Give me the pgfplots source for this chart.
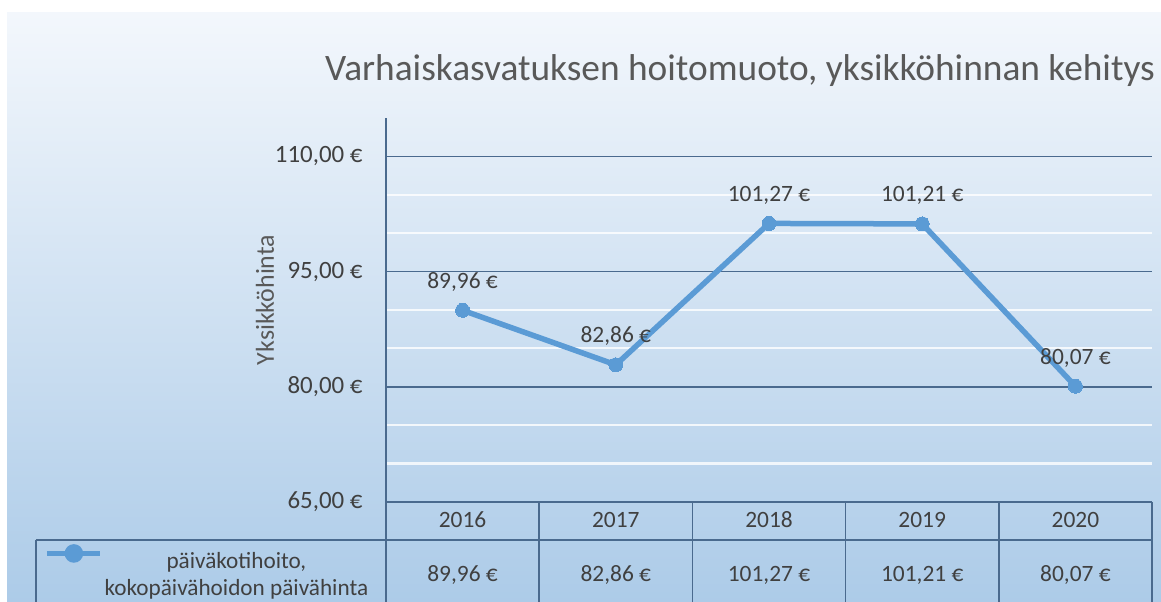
\documentclass[border=0pt]{standalone}
\usepackage{fontspec}
\setmainfont{Carlito}
\usepackage{pgfplots}
\usepackage{pgfplotstable}
\pgfplotsset{compat=1.18}
\definecolor{bgtop}{RGB}{243,247,252}
\definecolor{bgbot}{RGB}{172,203,232}
\definecolor{gridc}{RGB}{74,106,142}
\definecolor{txt}{RGB}{64,64,64}
\definecolor{ttl}{RGB}{89,89,89}
\definecolor{ser}{RGB}{91,155,213}

\pgfplotstableread{
year value
2016 89.96
2017 82.86
2018 101.27
2019 101.21
2020 80.07
}\datatable

\begin{document}
\begin{tikzpicture}[x=1bp,y=1bp]
\useasboundingbox (0,0) rectangle (1161,602);
\shade[top color=bgtop,bottom color=bgbot] (7,-2) rectangle (1163,589);
\node[font=\fontsize{37.5}{44}\selectfont, text=ttl] at (740,531) {Varhaiskasvatuksen hoitomuoto, yksikköhinnan kehitys};
\begin{axis}[
  at={(386bp,100bp)}, anchor=south west,
  scale only axis, width=766bp, height=384bp,
  xmin=-0.5, xmax=4.5, ymin=65, ymax=115,
  axis x line=none, axis y line*=left,
  y axis line style={gridc, line width=1.6bp, -},
  ytick={65,80,95,110},
  yticklabels={{65,00 €},{80,00 €},{95,00 €},{110,00 €}},
  minor ytick={70,75,85,90,100,105},
  ymajorgrids, yminorgrids,
  major grid style={gridc, line width=1.6bp},
  minor grid style={white, opacity=0.8, line width=2.2bp},
  major tick length=0pt, minor tick length=0pt,
  yticklabel style={font=\fontsize{25}{30}\selectfont, text=txt, xshift=-20bp},
  ylabel={Yksikköhinta},
  ylabel style={font=\fontsize{26}{31}\selectfont, text=ttl, at={(axis description cs:-0.158,0.526)}, anchor=center},
  clip=false,
  legend style={at={(axis cs:-2.785,60.05)}, anchor=north west, draw=none, fill=none,
    font=\fontsize{23.3}{27.5}\selectfont, text=txt, inner xsep=8bp, inner ysep=4bp,
    /tikz/every even column/.append style={column sep=19bp}},
  legend image code/.code={\draw[ser, line width=5.5bp] (0bp,6bp) -- (53bp,6bp); \fill[ser] (27bp,6bp) circle (6.5bp);},
]
\addplot[ser, line width=5.5bp, mark=*, mark size=7bp, mark options={fill=ser, draw=ser, line width=0pt},
  point meta=y,
  nodes near coords={\pgfmathprintnumber[fixed,fixed zerofill,precision=2,use comma,assume math mode=true]{\pgfplotspointmeta}~€},
  nodes near coords style={font=\fontsize{23.5}{28}\selectfont, text=txt, anchor=south, yshift=17bp, inner sep=2bp}]
  table[x expr=\coordindex, y=value]{\datatable};
\addlegendentry{\begin{tabular}[t]{@{}c@{}}päiväkotihoito,\\kokopäivähoidon päivähinta\end{tabular}}
% table header (years)
\addplot[draw=none, mark=none, forget plot, point meta=explicit symbolic,
  nodes near coords={\pgfplotspointmeta},
  nodes near coords style={font=\fontsize{23.5}{28}\selectfont, text=txt, anchor=center}]
  table[x expr=\coordindex, y expr=62.66, meta=year]{\datatable};
% table values
\addplot[draw=none, mark=none, forget plot, point meta=explicit,
  nodes near coords={\pgfmathprintnumber[fixed,fixed zerofill,precision=2,use comma,assume math mode=true]{\pgfplotspointmeta}~€},
  nodes near coords style={font=\fontsize{23.5}{28}\selectfont, text=txt, anchor=center}]
  table[x expr=\coordindex, y expr=55.49, meta=value]{\datatable};
% table grid
\draw[gridc, line width=1.6bp] (axis cs:-2.785,60.05) -- (axis cs:4.5,60.05);
\draw[gridc, line width=1.6bp] (axis cs:-2.785,60.05) -- (axis cs:-2.785,51.5);
\pgfplotsinvokeforeach{-0.5,0.5,1.5,2.5,3.5,4.5}{
  \draw[gridc, line width=1.6bp] (axis cs:#1,65) -- (axis cs:#1,51.5);
}
\end{axis}
\end{tikzpicture}
\end{document}
